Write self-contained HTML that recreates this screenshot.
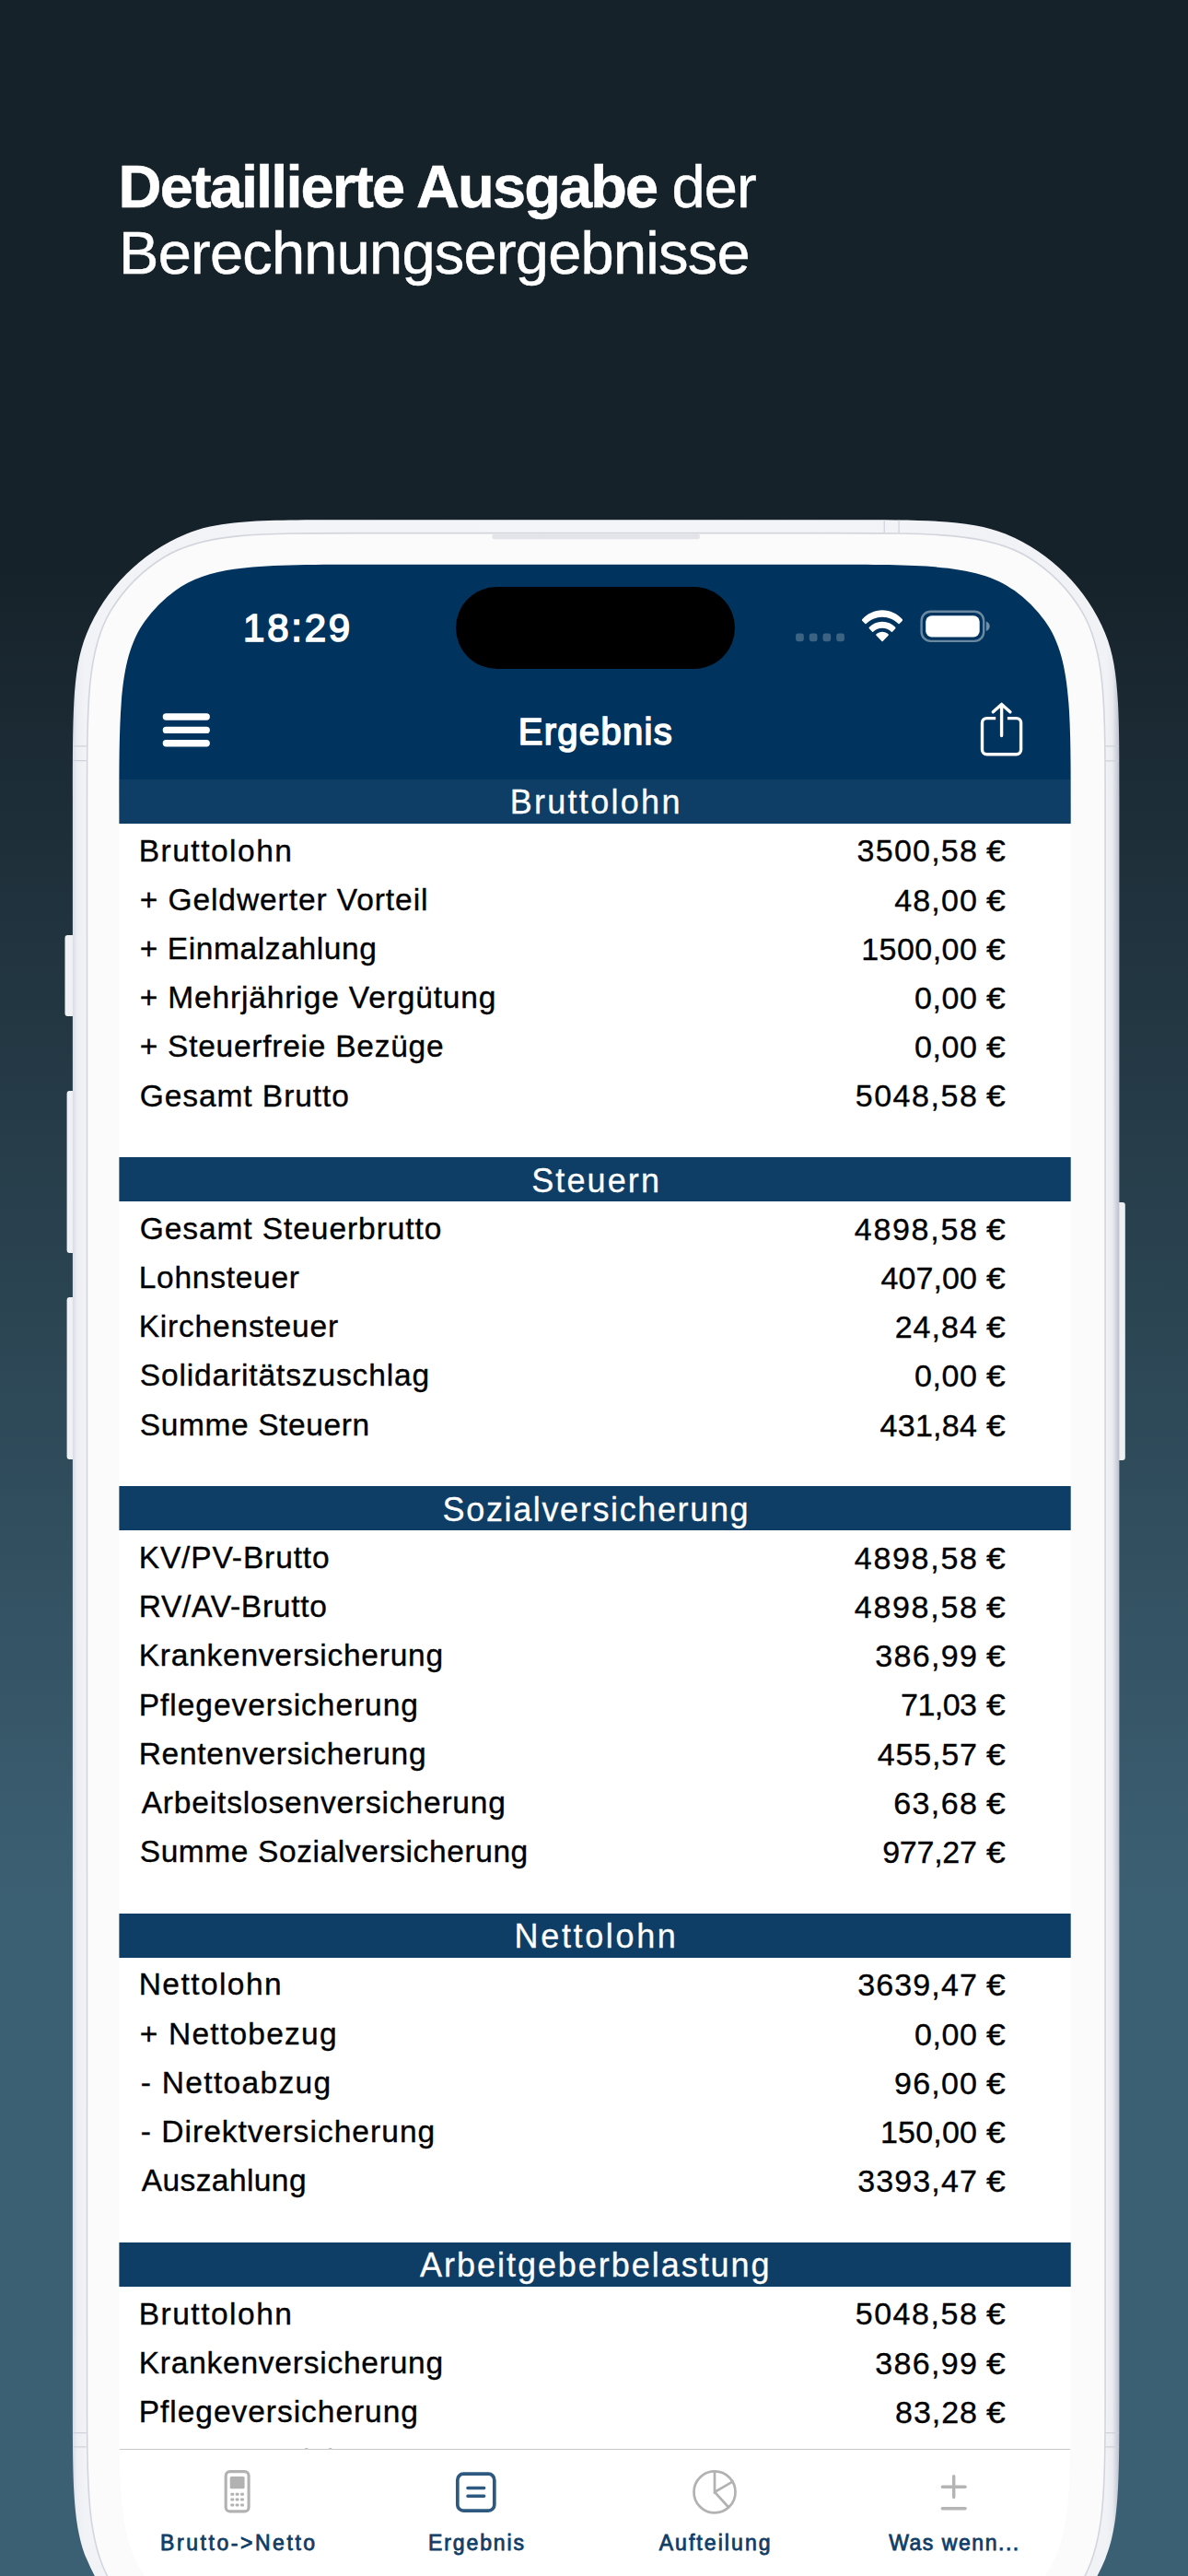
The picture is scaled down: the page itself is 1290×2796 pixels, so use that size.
<!DOCTYPE html>
<html lang="de"><head><meta charset="utf-8"><title>Ergebnis</title>
<style>
html,body{margin:0;padding:0}
html{background:#16222a}
body{width:1290px;height:2796px;overflow:hidden;position:relative;font-family:"Liberation Sans",sans-serif;background:#16222a}
.bg{position:absolute;left:0;top:0;width:1290px;height:2796px;background:linear-gradient(180deg,#16222a 0px,#16222a 612px,#3c6073 2069px,#3c6073 2796px)}
.abs{position:absolute}
.t{position:absolute;white-space:nowrap;margin:0}
.h1{color:#fff;-webkit-text-stroke:.5px #fff}
.screen{position:absolute;left:0;top:0;width:1290px;height:2796px;clip-path:path('M896.30 612.80c110.99 0 166.49 0 205.39 28.27a148.00 148.00 0 0 1 32.74 32.74c28.27 38.90 28.27 94.40 28.27 205.39L1162.70 2590.60c0 110.99 0 166.49 -28.27 205.39a148.00 148.00 0 0 1 -32.74 32.74c-38.90 28.27 -94.40 28.27 -205.39 28.27L395.80 2857.00c-110.99 0 -166.49 0 -205.39 -28.27a148.00 148.00 0 0 1 -32.74 -32.74c-28.27 -38.90 -28.27 -94.40 -28.27 -205.39L129.40 879.20c0 -110.99 0 -166.49 28.27 -205.39a148.00 148.00 0 0 1 32.74 -32.74c38.90 -28.27 94.40 -28.27 205.39 -28.27Z');background:#fff;overflow:hidden}
.nav{position:absolute;left:0;top:560px;width:1290px;height:285.60px;background:#00335d}
.hd{position:absolute;left:100px;width:1100px;height:48.0px;background:#0e3d65}
.hdt{color:#fff;-webkit-text-stroke:.3px #fff}
.lab,.val{color:#000;-webkit-text-stroke:.35px #000}
.sp{letter-spacing:2.8px}
.eu{display:inline-block;transform:scaleX(1.1);transform-origin:100% 50%;letter-spacing:0}
.sb{color:#fff;-webkit-text-stroke:1.1px #fff}
.tabbar{position:absolute;left:100px;top:2658.0px;width:1100px;height:200px;background:#fff;border-top:1.3px solid #c9c9c9}
.tab{color:#0f3d66;-webkit-text-stroke:.8px #0f3d66}
</style></head>
<body>
<div class="bg"></div>
<div class="t h1" style="top:160.68px;font-size:65px;line-height:84px;letter-spacing:-1.89px;font-weight:700;left:128.60px;">Detaillierte Ausgabe</div>
<div class="t h1" style="top:160.68px;font-size:65px;line-height:84px;letter-spacing:-0.8px;left:729.40px;">der</div>
<div class="t h1" style="top:232.58px;font-size:65px;line-height:84px;letter-spacing:-0.78px;left:129.10px;">Berechnungsergebnisse</div>
<svg class="abs" style="left:0;top:0" width="1290" height="2796" viewBox="0 0 1290 2796">
 <defs>
  <linearGradient id="gb" x1="0" x2="1" y1="0" y2="0">
   <stop offset="0" stop-color="#d9dce6"/><stop offset=".004" stop-color="#eceef3"/><stop offset=".012" stop-color="#f2f3f6"/><stop offset=".5" stop-color="#f4f5f8"/><stop offset=".988" stop-color="#f1f2f6"/><stop offset=".9935" stop-color="#e9ebf0"/><stop offset="1" stop-color="#bcc0ce"/>
  </linearGradient>
 </defs>
 <!-- side buttons -->
 <rect x="70.5" y="1015" width="14" height="88" rx="3" fill="#f0f1f5"/>
 <rect x="72.6" y="1184" width="12" height="176" rx="3" fill="#f0f1f5"/>
 <rect x="72.6" y="1408" width="12" height="176" rx="3" fill="#f0f1f5"/>
 <rect x="1210" y="1305" width="11.800" height="280" rx="3" fill="#eef0f4"/>
 <path d="M915.40 564.30c93.19 0 139.78 0 176.54 15.22a200.00 200.00 0 0 1 108.24 108.24c15.22 36.75 15.22 83.35 15.22 176.54L1215.40 2601.00c0 93.19 0 139.78 -15.22 176.54a200.00 200.00 0 0 1 -108.24 108.24c-36.75 15.22 -83.35 15.22 -176.54 15.22L378.90 2901.00c-93.19 0 -139.78 0 -176.54 -15.22a200.00 200.00 0 0 1 -108.24 -108.24c-15.22 -36.75 -15.22 -83.35 -15.22 -176.54L78.90 864.30c0 -93.19 0 -139.78 15.22 -176.54a200.00 200.00 0 0 1 108.24 -108.24c36.75 -15.22 83.35 -15.22 176.54 -15.22Z" fill="url(#gb)"/>
 <path d="M900.90 578.60c115.22 0 172.84 0 215.16 25.94a176.00 176.00 0 0 1 58.10 58.10c25.94 42.32 25.94 99.93 25.94 215.16L1200.10 2587.80c0 115.22 0 172.84 -25.94 215.16a176.00 176.00 0 0 1 -58.10 58.10c-42.32 25.94 -99.93 25.94 -215.16 25.94L393.70 2887.00c-115.22 0 -172.84 0 -215.16 -25.94a176.00 176.00 0 0 1 -58.10 -58.10c-25.94 -42.32 -25.94 -99.93 -25.94 -215.16L94.50 877.80c0 -115.22 0 -172.84 25.94 -215.16a176.00 176.00 0 0 1 58.10 -58.10c42.32 -25.94 99.93 -25.94 215.16 -25.94Z" fill="#fbfbfc" stroke="#d3d5dc" stroke-width="1.6"/>
 <rect x="534.4" y="579.6" width="225.5" height="5.6" rx="2.5" fill="#e3e4e9"/>
 <g stroke="#cfd2da" stroke-width="1.2">
  <path d="M960.2 564.6V578M976.1 564.6V578"/>
  <path d="M79.2 809.8H93.8M79.2 825.600H93.8M79.2 2640.600H93.8M79.2 2655.800H93.8"/>
  <path d="M1200.400 809.9H1215M1200.400 825.9H1215M1200.400 2640.600H1215M1200.400 2655.800H1215"/>
 </g>
</svg>
<div class="screen">
 <div class="nav"></div>
 
<div class="abs" style="left:494.9px;top:637.3px;width:303.4px;height:88.7px;border-radius:45px;background:#000"></div>
<div class="t sb" style="top:653.55px;font-size:42px;line-height:55px;letter-spacing:2.75px;left:264.10px;-webkit-text-stroke-width:1.6px;">18:29</div>
<svg class="abs" style="left:0;top:0" width="1290" height="900" viewBox="0 0 1290 900" fill="none">
 <g fill="#fff" fill-opacity=".24">
  <rect x="864.1" y="687.5" width="8.7" height="8.7" rx="2.4"/><rect x="878.8" y="687.5" width="8.7" height="8.7" rx="2.4"/>
  <rect x="893.5" y="687.5" width="8.7" height="8.7" rx="2.4"/><rect x="908.2" y="687.5" width="8.7" height="8.7" rx="2.4"/>
 </g>
 <!-- wifi -->
 <g transform="translate(934.8 662.2) scale(2.735 2.87)">
  <path fill="#fff" d="M8.5 2.6c2.5 0 4.7 1 6.4 2.6.1.1.3.1.4 0l1.2-1.2c.1-.1.1-.3 0-.5C14.400 1.300 11.600 0 8.500 0S2.600 1.300.5 3.500c-.100.200-.100.400 0 .5l1.200 1.200c.100.100.300.100.400 0C3.800 3.600 6 2.600 8.500 2.600z"/>
  <path fill="#fff" d="M8.5 6.800c1.400 0 2.600.500 3.600 1.400.100.100.300.100.400 0l1.200-1.200c.100-.100.100-.300 0-.500C12.300 5.200 10.500 4.400 8.500 4.400s-3.800.800-5.200 2.100c-.100.100-.100.400 0 .500l1.200 1.200c.100.100.300.100.400 0 1-.900 2.200-1.400 3.600-1.400z"/>
  <path fill="#fff" d="M10.900 9.600c.100-.100.100-.400 0-.500-.700-.600-1.500-.900-2.400-.900s-1.700.300-2.400.900c-.100.100-.100.400 0 .500l2.200 2.200c.100.100.300.100.400 0l2.200-2.200z"/>
 </g>
 <!-- battery -->
 <rect x="1000.6" y="663.7" width="67.6" height="32.2" rx="10" stroke="#fff" stroke-opacity=".42" stroke-width="2.4"/>
 <rect x="1005.2" y="668.3" width="58.5" height="23.2" rx="6.5" fill="#fff"/>
 <path d="M1070.8 674.6c2.300.800 3.900 2.900 3.900 5.200s-1.600 4.400-3.900 5.200z" fill="#fff" fill-opacity=".45"/>
 <!-- hamburger -->
 <g stroke="#fff" stroke-width="7.4" stroke-linecap="round">
  <path d="M180.4 778H224.2M180.4 792.4H224.2M180.4 806.8H224.2"/>
 </g>
 <!-- share -->
 <g stroke="#fff" stroke-width="3.4" stroke-linejoin="round">
  <path d="M1081.2 779.6H1071.500a5 5 0 0 0-5 5V813.700a5 5 0 0 0 5 5H1103.600a5 5 0 0 0 5-5V784.600a5 5 0 0 0-5-5H1093.900"/>
  <path stroke-linecap="round" d="M1087.600 798.5V765M1078.300 772.800L1087.600 764.400L1096.900 772.800"/>
 </g>
</svg>
<div class="t sb" style="top:767.84px;font-size:40px;line-height:52px;letter-spacing:1.3px;left:246.85px;width:800px;text-align:center;-webkit-text-stroke-width:1.6px;">Ergebnis</div>

 <div class="hd" style="top:845.60px"></div>
<div class="t hdt" style="top:847.43px;font-size:36px;line-height:47px;letter-spacing:2.3px;left:247.20px;width:800px;text-align:center;">Bruttolohn</div>
<div class="t lab" style="top:901.59px;font-size:33.5px;line-height:44px;letter-spacing:1.51px;left:150.70px;">Bruttolohn</div>
<div class="t val" style="top:901.42px;font-size:34px;line-height:44px;right:197.90px;text-align:right;"><span style="letter-spacing:1.24px;margin-right:-1.24px">3500,58</span><span class="sp"> </span><span class="eu">€</span></div>
<div class="t lab" style="top:954.79px;font-size:33.5px;line-height:44px;letter-spacing:0.93px;left:151.70px;">+ Geldwerter Vorteil</div>
<div class="t val" style="top:954.62px;font-size:34px;line-height:44px;right:197.90px;text-align:right;"><span style="letter-spacing:1.16px;margin-right:-1.16px">48,00</span><span class="sp"> </span><span class="eu">€</span></div>
<div class="t lab" style="top:1007.99px;font-size:33.5px;line-height:44px;letter-spacing:0.61px;left:151.70px;">+ Einmalzahlung</div>
<div class="t val" style="top:1007.82px;font-size:34px;line-height:44px;right:197.90px;text-align:right;"><span style="letter-spacing:0.48px;margin-right:-0.48px">1500,00</span><span class="sp"> </span><span class="eu">€</span></div>
<div class="t lab" style="top:1061.19px;font-size:33.5px;line-height:44px;letter-spacing:0.86px;left:151.70px;">+ Mehrjährige Vergütung</div>
<div class="t val" style="top:1061.02px;font-size:34px;line-height:44px;right:197.90px;text-align:right;"><span style="letter-spacing:0.58px;margin-right:-0.58px">0,00</span><span class="sp"> </span><span class="eu">€</span></div>
<div class="t lab" style="top:1114.39px;font-size:33.5px;line-height:44px;letter-spacing:0.75px;left:151.70px;">+ Steuerfreie Bezüge</div>
<div class="t val" style="top:1114.22px;font-size:34px;line-height:44px;right:197.90px;text-align:right;"><span style="letter-spacing:0.58px;margin-right:-0.58px">0,00</span><span class="sp"> </span><span class="eu">€</span></div>
<div class="t lab" style="top:1167.59px;font-size:33.5px;line-height:44px;letter-spacing:0.94px;left:151.70px;">Gesamt Brutto</div>
<div class="t val" style="top:1167.42px;font-size:34px;line-height:44px;right:197.90px;text-align:right;"><span style="letter-spacing:1.56px;margin-right:-1.56px">5048,58</span><span class="sp"> </span><span class="eu">€</span></div>
<div class="hd" style="top:1255.90px"></div>
<div class="t hdt" style="top:1257.73px;font-size:36px;line-height:47px;letter-spacing:2.1px;left:247.65px;width:800px;text-align:center;">Steuern</div>
<div class="t lab" style="top:1311.89px;font-size:33.5px;line-height:44px;letter-spacing:0.93px;left:151.70px;">Gesamt Steuerbrutto</div>
<div class="t val" style="top:1311.72px;font-size:34px;line-height:44px;right:197.90px;text-align:right;"><span style="letter-spacing:1.71px;margin-right:-1.71px">4898,58</span><span class="sp"> </span><span class="eu">€</span></div>
<div class="t lab" style="top:1365.09px;font-size:33.5px;line-height:44px;letter-spacing:0.74px;left:150.70px;">Lohnsteuer</div>
<div class="t val" style="top:1364.92px;font-size:34px;line-height:44px;right:197.90px;text-align:right;"><span style="letter-spacing:0.09px;margin-right:-0.09px">407,00</span><span class="sp"> </span><span class="eu">€</span></div>
<div class="t lab" style="top:1418.29px;font-size:33.5px;line-height:44px;letter-spacing:0.81px;left:150.70px;">Kirchensteuer</div>
<div class="t val" style="top:1418.12px;font-size:34px;line-height:44px;right:197.90px;text-align:right;"><span style="letter-spacing:1.04px;margin-right:-1.04px">24,84</span><span class="sp"> </span><span class="eu">€</span></div>
<div class="t lab" style="top:1471.49px;font-size:33.5px;line-height:44px;letter-spacing:0.87px;left:151.70px;">Solidaritätszuschlag</div>
<div class="t val" style="top:1471.32px;font-size:34px;line-height:44px;right:197.90px;text-align:right;"><span style="letter-spacing:0.58px;margin-right:-0.58px">0,00</span><span class="sp"> </span><span class="eu">€</span></div>
<div class="t lab" style="top:1524.69px;font-size:33.5px;line-height:44px;letter-spacing:0.62px;left:151.70px;">Summe Steuern</div>
<div class="t val" style="top:1524.52px;font-size:34px;line-height:44px;right:197.90px;text-align:right;"><span style="letter-spacing:0.27px;margin-right:-0.27px">431,84</span><span class="sp"> </span><span class="eu">€</span></div>
<div class="hd" style="top:1613.00px"></div>
<div class="t hdt" style="top:1614.83px;font-size:36px;line-height:47px;letter-spacing:1.64px;left:247.42px;width:800px;text-align:center;">Sozialversicherung</div>
<div class="t lab" style="top:1668.99px;font-size:33.5px;line-height:44px;letter-spacing:0.87px;left:150.70px;">KV/PV-Brutto</div>
<div class="t val" style="top:1668.82px;font-size:34px;line-height:44px;right:197.90px;text-align:right;"><span style="letter-spacing:1.71px;margin-right:-1.71px">4898,58</span><span class="sp"> </span><span class="eu">€</span></div>
<div class="t lab" style="top:1722.19px;font-size:33.5px;line-height:44px;letter-spacing:0.73px;left:150.70px;">RV/AV-Brutto</div>
<div class="t val" style="top:1722.02px;font-size:34px;line-height:44px;right:197.90px;text-align:right;"><span style="letter-spacing:1.71px;margin-right:-1.71px">4898,58</span><span class="sp"> </span><span class="eu">€</span></div>
<div class="t lab" style="top:1775.39px;font-size:33.5px;line-height:44px;letter-spacing:0.77px;left:150.70px;">Krankenversicherung</div>
<div class="t val" style="top:1775.22px;font-size:34px;line-height:44px;right:197.90px;text-align:right;"><span style="letter-spacing:1.33px;margin-right:-1.33px">386,99</span><span class="sp"> </span><span class="eu">€</span></div>
<div class="t lab" style="top:1828.59px;font-size:33.5px;line-height:44px;letter-spacing:0.97px;left:150.70px;">Pflegeversicherung</div>
<div class="t val" style="top:1828.42px;font-size:34px;line-height:44px;right:197.90px;text-align:right;"><span style="letter-spacing:-0.54px;margin-right:0.54px">71,03</span><span class="sp"> </span><span class="eu">€</span></div>
<div class="t lab" style="top:1881.79px;font-size:33.5px;line-height:44px;letter-spacing:0.71px;left:150.70px;">Rentenversicherung</div>
<div class="t val" style="top:1881.62px;font-size:34px;line-height:44px;right:197.90px;text-align:right;"><span style="letter-spacing:0.85px;margin-right:-0.85px">455,57</span><span class="sp"> </span><span class="eu">€</span></div>
<div class="t lab" style="top:1934.99px;font-size:33.5px;line-height:44px;letter-spacing:0.83px;left:153.70px;">Arbeitslosenversicherung</div>
<div class="t val" style="top:1934.82px;font-size:34px;line-height:44px;right:197.90px;text-align:right;"><span style="letter-spacing:1.41px;margin-right:-1.41px">63,68</span><span class="sp"> </span><span class="eu">€</span></div>
<div class="t lab" style="top:1988.19px;font-size:33.5px;line-height:44px;letter-spacing:0.6px;left:151.70px;">Summe Sozialversicherung</div>
<div class="t val" style="top:1988.02px;font-size:34px;line-height:44px;right:197.90px;text-align:right;"><span style="letter-spacing:-0.25px;margin-right:0.25px">977,27</span><span class="sp"> </span><span class="eu">€</span></div>
<div class="hd" style="top:2076.50px"></div>
<div class="t hdt" style="top:2078.33px;font-size:36px;line-height:47px;letter-spacing:2.65px;left:247.57px;width:800px;text-align:center;">Nettolohn</div>
<div class="t lab" style="top:2132.49px;font-size:33.5px;line-height:44px;letter-spacing:1.44px;left:150.70px;">Nettolohn</div>
<div class="t val" style="top:2132.32px;font-size:34px;line-height:44px;right:197.90px;text-align:right;"><span style="letter-spacing:1.14px;margin-right:-1.14px">3639,47</span><span class="sp"> </span><span class="eu">€</span></div>
<div class="t lab" style="top:2185.69px;font-size:33.5px;line-height:44px;letter-spacing:1.24px;left:151.70px;">+ Nettobezug</div>
<div class="t val" style="top:2185.52px;font-size:34px;line-height:44px;right:197.90px;text-align:right;"><span style="letter-spacing:0.58px;margin-right:-0.58px">0,00</span><span class="sp"> </span><span class="eu">€</span></div>
<div class="t lab" style="top:2238.89px;font-size:33.5px;line-height:44px;letter-spacing:1.33px;left:152.70px;">- Nettoabzug</div>
<div class="t val" style="top:2238.72px;font-size:34px;line-height:44px;right:197.90px;text-align:right;"><span style="letter-spacing:1.19px;margin-right:-1.19px">96,00</span><span class="sp"> </span><span class="eu">€</span></div>
<div class="t lab" style="top:2292.09px;font-size:33.5px;line-height:44px;letter-spacing:1.04px;left:152.70px;">- Direktversicherung</div>
<div class="t val" style="top:2291.92px;font-size:34px;line-height:44px;right:197.90px;text-align:right;"><span style="letter-spacing:0.19px;margin-right:-0.19px">150,00</span><span class="sp"> </span><span class="eu">€</span></div>
<div class="t lab" style="top:2345.29px;font-size:33.5px;line-height:44px;letter-spacing:0.42px;left:153.70px;">Auszahlung</div>
<div class="t val" style="top:2345.12px;font-size:34px;line-height:44px;right:197.90px;text-align:right;"><span style="letter-spacing:1.14px;margin-right:-1.14px">3393,47</span><span class="sp"> </span><span class="eu">€</span></div>
<div class="hd" style="top:2433.60px"></div>
<div class="t hdt" style="top:2435.43px;font-size:36px;line-height:47px;letter-spacing:1.96px;left:246.83px;width:800px;text-align:center;">Arbeitgeberbelastung</div>
<div class="t lab" style="top:2489.59px;font-size:33.5px;line-height:44px;letter-spacing:1.51px;left:150.70px;">Bruttolohn</div>
<div class="t val" style="top:2489.42px;font-size:34px;line-height:44px;right:197.90px;text-align:right;"><span style="letter-spacing:1.56px;margin-right:-1.56px">5048,58</span><span class="sp"> </span><span class="eu">€</span></div>
<div class="t lab" style="top:2542.79px;font-size:33.5px;line-height:44px;letter-spacing:0.77px;left:150.70px;">Krankenversicherung</div>
<div class="t val" style="top:2542.62px;font-size:34px;line-height:44px;right:197.90px;text-align:right;"><span style="letter-spacing:1.33px;margin-right:-1.33px">386,99</span><span class="sp"> </span><span class="eu">€</span></div>
<div class="t lab" style="top:2595.99px;font-size:33.5px;line-height:44px;letter-spacing:0.97px;left:150.70px;">Pflegeversicherung</div>
<div class="t val" style="top:2595.82px;font-size:34px;line-height:44px;right:197.90px;text-align:right;"><span style="letter-spacing:0.94px;margin-right:-0.94px">83,28</span><span class="sp"> </span><span class="eu">€</span></div>
<div class="t lab" style="top:2649.19px;font-size:33.5px;line-height:44px;letter-spacing:0.71px;left:150.70px;">Rentenversicherung</div>
<div class="t val" style="top:2649.02px;font-size:34px;line-height:44px;right:197.90px;text-align:right;"><span style="letter-spacing:0.85px;margin-right:-0.85px">455,57</span><span class="sp"> </span><span class="eu">€</span></div>
 <div class="tabbar"></div>
 
<svg class="abs" style="left:0;top:0" width="1290" height="2796" viewBox="0 0 1290 2796" fill="none">
 <!-- calculator -->
 <g stroke="#b2b2b2" fill="#b2b2b2">
  <rect x="245.2" y="2682.6" width="24.9" height="43.3" rx="4.5" fill="none" stroke-width="3.1"/>
  <rect x="249.7" y="2687.9" width="15.9" height="13.4" rx="1.5" stroke="none"/>
  <g stroke="none">
   <rect x="250.4" y="2705.7" width="3.8" height="3" rx=".8"/><rect x="255.7" y="2705.7" width="3.8" height="3" rx=".8"/><rect x="261.1" y="2705.7" width="3.8" height="3" rx=".8"/>
   <rect x="250.4" y="2711.6" width="3.8" height="3" rx=".8"/><rect x="255.7" y="2711.6" width="3.8" height="3" rx=".8"/><rect x="261.1" y="2711.6" width="3.8" height="3" rx=".8"/>
   <rect x="250.4" y="2717.5" width="3.8" height="3" rx=".8"/><rect x="255.7" y="2717.5" width="3.8" height="3" rx=".8"/><rect x="261.1" y="2717.5" width="3.8" height="3" rx=".8"/>
  </g>
 </g>
 <!-- ergebnis -->
 <g stroke="#2d5980" stroke-linecap="round">
  <rect x="496.8" y="2685.2" width="40" height="40" rx="6.5" stroke-width="3.7"/>
  <path d="M507.9 2700.5H525.7M507.9 2709.3H525.7" stroke-width="3.4"/>
 </g>
 <!-- pie -->
 <g stroke="#b2b2b2" stroke-width="2.7" stroke-linecap="round">
  <circle cx="776" cy="2704.9" r="22.5"/>
  <path d="M776 2682.5V2704.9L795.4 2693.6M776 2704.9L791.2 2721.5"/>
 </g>
 <!-- plus minus -->
 <g stroke="#b4b4b4" stroke-width="3.4" stroke-linecap="round">
  <path d="M1023.3 2699.2H1048.1M1035.7 2687.6V2710.6M1023.3 2722.7H1048.1"/>
 </g>
</svg>
 <div class="t tab" style="top:2744.83px;font-size:23px;line-height:30px;letter-spacing:2.55px;left:-140.62px;width:800px;text-align:center;">Brutto-&gt;Netto</div><div class="t tab" style="top:2744.83px;font-size:23px;line-height:30px;letter-spacing:1.91px;left:117.95px;width:800px;text-align:center;">Ergebnis</div><div class="t tab" style="top:2744.83px;font-size:23px;line-height:30px;letter-spacing:2.07px;left:377.14px;width:800px;text-align:center;">Aufteilung</div><div class="t tab" style="top:2744.83px;font-size:23px;line-height:30px;letter-spacing:1.54px;left:636.47px;width:800px;text-align:center;">Was wenn...</div>
</div>
</body></html>
